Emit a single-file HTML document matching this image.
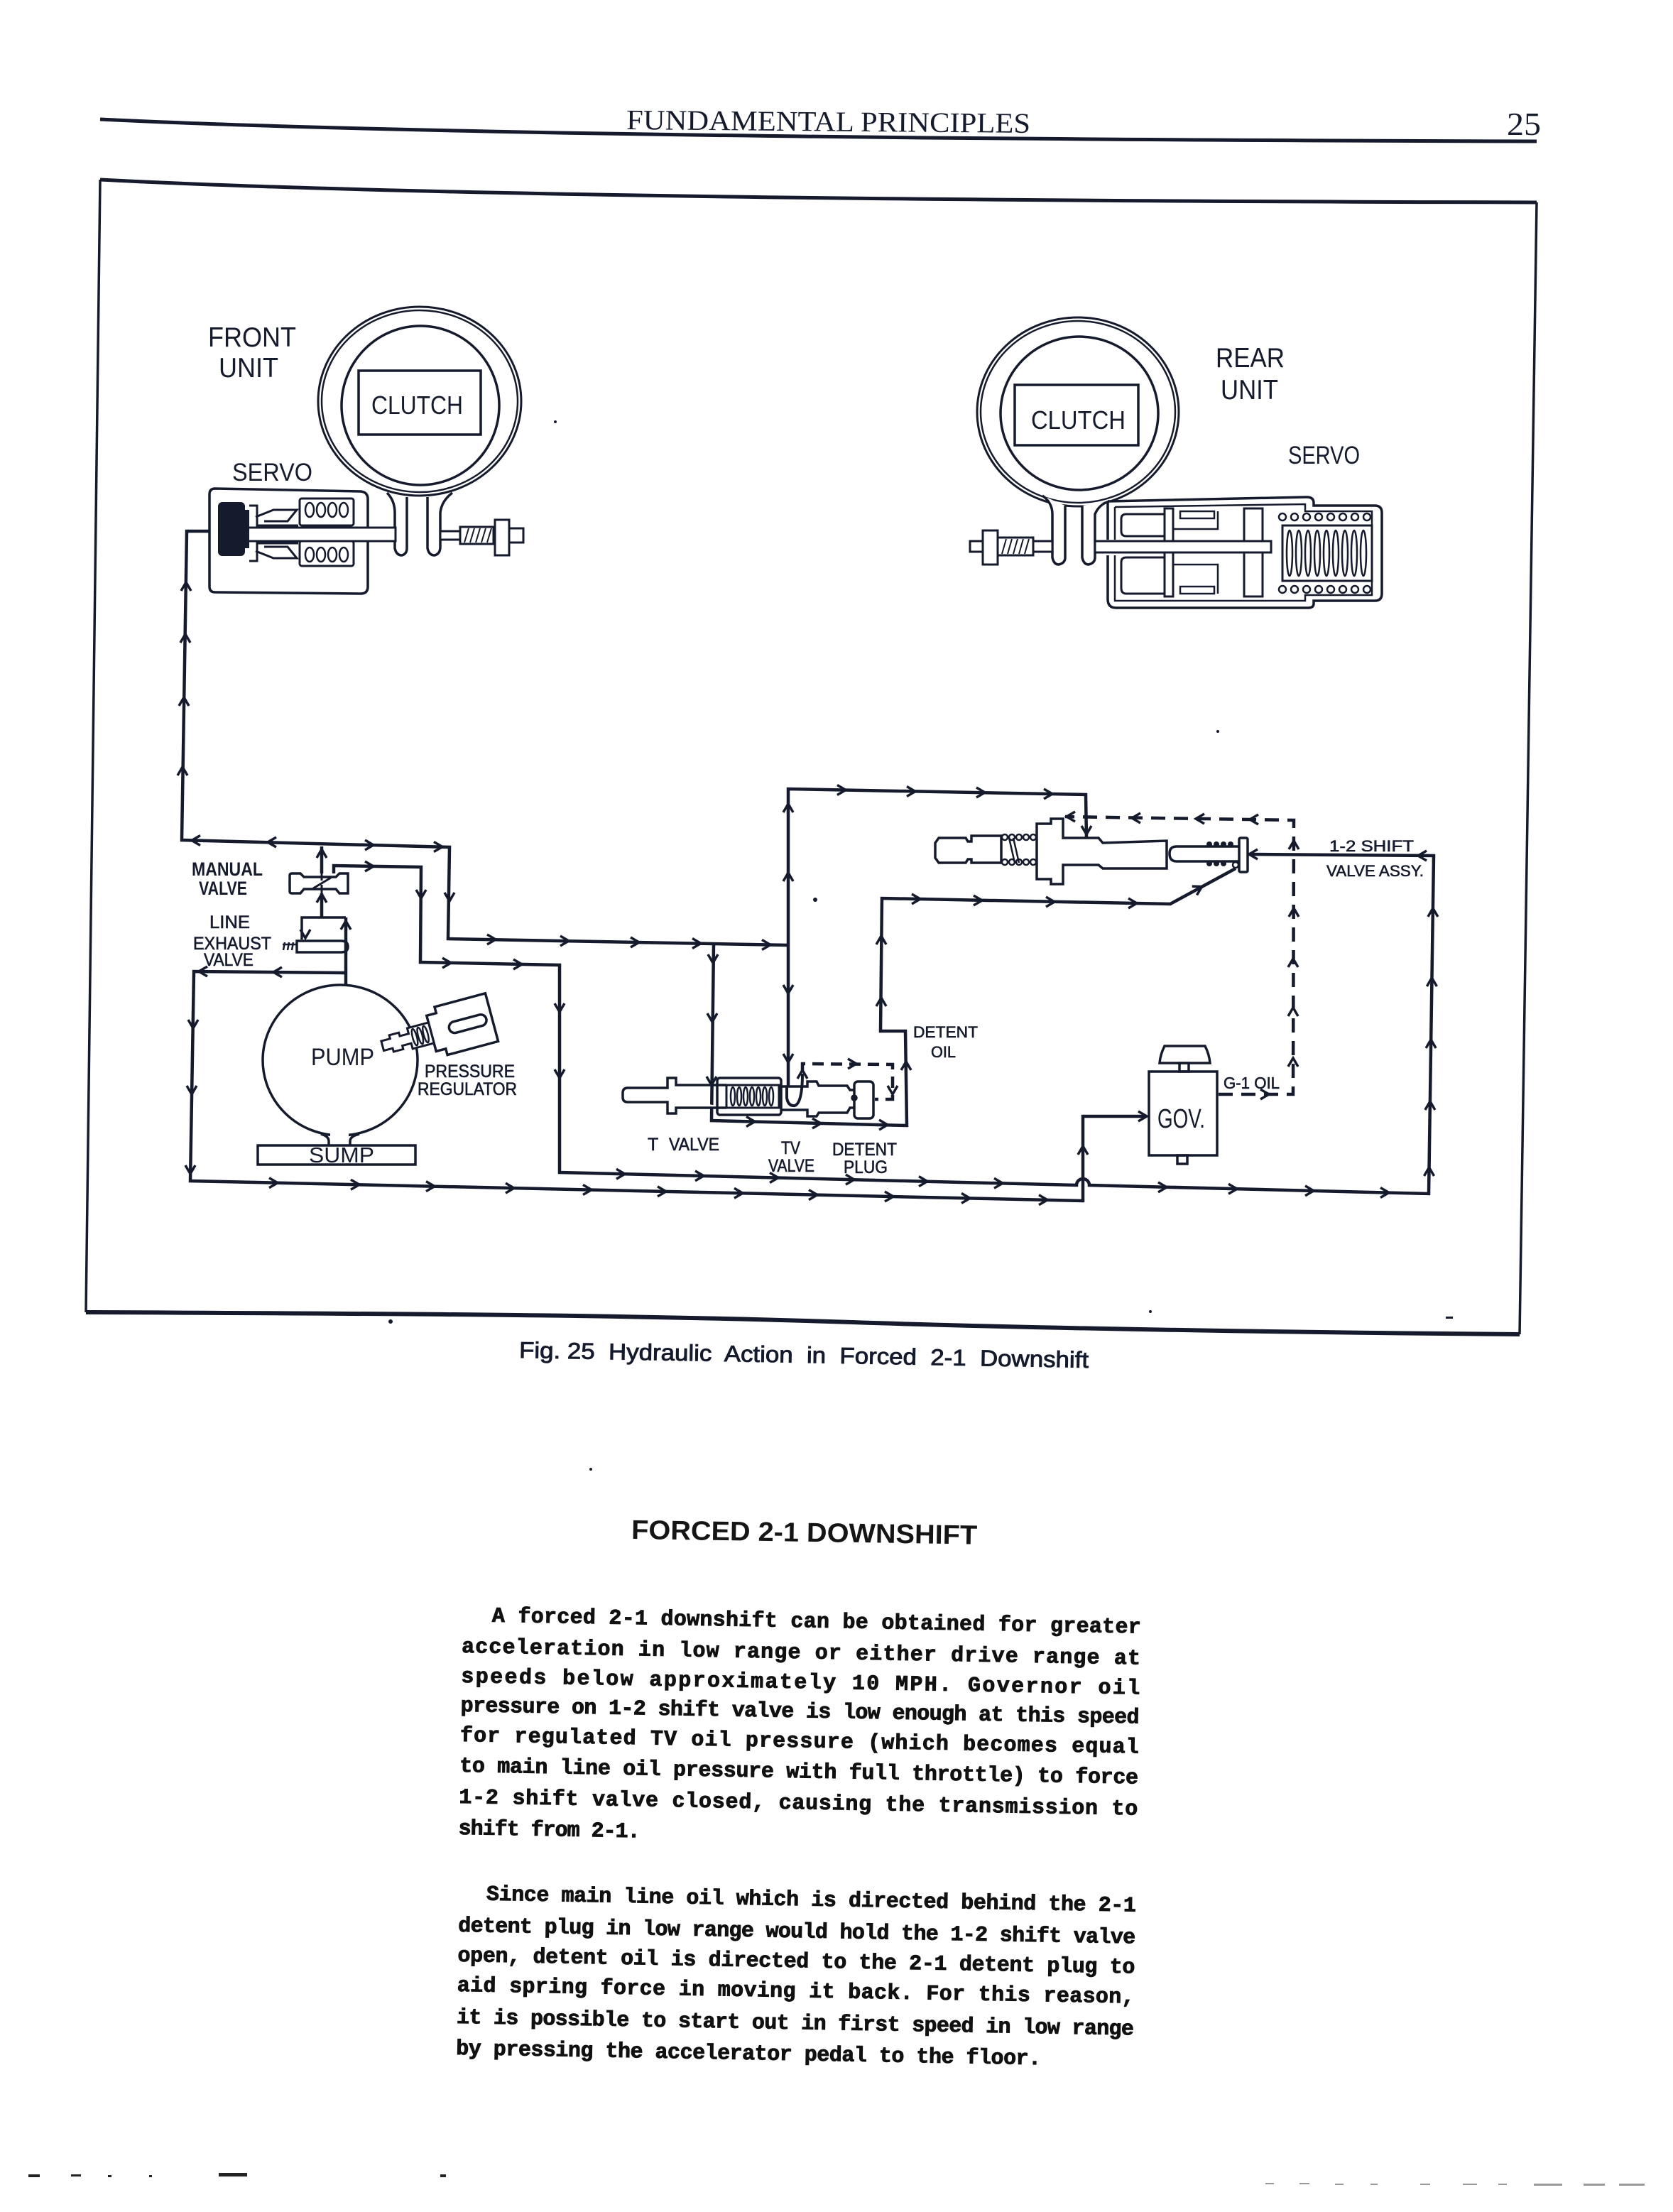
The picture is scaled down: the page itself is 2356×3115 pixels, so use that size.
<!DOCTYPE html>
<html><head><meta charset="utf-8">
<style>
html,body{margin:0;padding:0;background:#fff}
svg{display:block}
</style></head><body>
<svg xmlns="http://www.w3.org/2000/svg" width="2356" height="3115" viewBox="0 0 2356 3115">
<defs>
<path id="a" d="M-9,-7 L3,0 L-9,7" fill="none" stroke="#151b2d" stroke-width="3.5"/>
</defs>
<rect width="2356" height="3115" fill="#fff"/>

<!-- HEADER -->
<g fill="none" stroke="#151b2d">
<path d="M141,168 Q700,195 2164,199" stroke-width="5"/>
<!-- frame -->
<path d="M141,253 Q700,282 2164,285" stroke-width="5"/>
<path d="M141,253 L121,1848" stroke-width="3.5"/>
<path d="M2164,285 L2140,1879" stroke-width="3.5"/>
<path d="M121,1848 C600,1850 900,1852 1200,1862 S1900,1877 2140,1879" stroke-width="6"/>
</g>
<text x="882" y="182" font-family="Liberation Serif, serif" font-size="40" fill="#151b2d" textLength="569" lengthAdjust="spacingAndGlyphs" transform="rotate(0.5 882 182)">FUNDAMENTAL PRINCIPLES</text>
<text x="2122" y="190" font-family="Liberation Serif, serif" font-size="46" fill="#151b2d" textLength="48" lengthAdjust="spacingAndGlyphs">25</text>

<!-- ============ FRONT UNIT ============ -->
<g fill="none" stroke="#151b2d">
<ellipse cx="591" cy="565" rx="143" ry="133" stroke-width="3"/>
<ellipse cx="591" cy="565" rx="138" ry="128" stroke-width="2.5"/>
<ellipse cx="592" cy="571" rx="111" ry="112" stroke-width="3.5"/>
<rect x="505" y="522" width="172" height="90" stroke-width="3.5"/>
<!-- fork -->
<path d="M545,694 Q556,705 556,722 L556,772 Q558,782 566,782 Q573,780 573,772 L573,700 M602,700 L602,772 Q604,782 612,782 Q620,780 620,770 L620,722 Q622,705 637,694" stroke-width="3.5" fill="#fff"/>
<!-- servo box -->
<path d="M303,688 L508,692 Q518,693 518,703 L518,826 Q518,836 508,836 L303,834 Q295,834 295,826 L295,696 Q295,688 303,688 Z" stroke-width="3.5"/>
<rect x="422" y="702" width="76" height="38" rx="3" stroke-width="3"/>
<rect x="422" y="762" width="76" height="35" rx="3" stroke-width="3"/>
<g stroke-width="2.5">
<ellipse cx="436" cy="718" rx="6" ry="10"/><ellipse cx="452" cy="718" rx="6" ry="10"/><ellipse cx="468" cy="718" rx="6" ry="10"/><ellipse cx="484" cy="718" rx="6" ry="10"/>
<ellipse cx="436" cy="781" rx="6" ry="10"/><ellipse cx="452" cy="781" rx="6" ry="10"/><ellipse cx="468" cy="781" rx="6" ry="10"/><ellipse cx="484" cy="781" rx="6" ry="10"/>
</g>
<polyline points="360,728 385,718 418,718 405,734 372,734" stroke-width="3"/>
<polyline points="372,770 405,770 418,786 385,786 360,776" stroke-width="3"/>
<path d="M351,712 L362,712 L362,740 L420,740 M351,790 L362,790 L362,765 L420,765" stroke-width="3"/>
<rect x="347" y="743" width="210" height="19" fill="#fff" stroke-width="3"/>
<!-- screw -->
<rect x="620" y="748" width="117" height="12" fill="#fff" stroke-width="3"/>
<rect x="648" y="742" width="47" height="24" fill="#fff" stroke-width="3"/>
<path d="M654,764 L660,744 M662,764 L668,744 M670,764 L676,744 M678,764 L684,744 M686,764 L692,744" stroke-width="2"/>
<rect x="697" y="732" width="20" height="50" fill="#fff" stroke-width="3"/>
<rect x="717" y="744" width="20" height="20" fill="#fff" stroke-width="3"/>
</g>
<rect x="307" y="707" width="38" height="76" rx="6" fill="#151b2d"/>
<rect x="343" y="718" width="8" height="54" fill="#151b2d"/>

<g font-family="Liberation Sans, sans-serif" fill="#151b2d">
<text x="293" y="488" font-size="39" textLength="124" lengthAdjust="spacingAndGlyphs">FRONT</text>
<text x="308" y="531" font-size="39" textLength="84" lengthAdjust="spacingAndGlyphs">UNIT</text>
<text x="523" y="583" font-size="36" textLength="129" lengthAdjust="spacingAndGlyphs">CLUTCH</text>
<text x="327" y="677" font-size="35" textLength="113" lengthAdjust="spacingAndGlyphs">SERVO</text>
<text x="1712" y="517" font-size="39" textLength="97" lengthAdjust="spacingAndGlyphs">REAR</text>
<text x="1719" y="562" font-size="39" textLength="81" lengthAdjust="spacingAndGlyphs">UNIT</text>
<text x="1452" y="604" font-size="36" textLength="133" lengthAdjust="spacingAndGlyphs">CLUTCH</text>
<text x="1814" y="653" font-size="35" textLength="101" lengthAdjust="spacingAndGlyphs">SERVO</text>
</g>

<!-- ============ REAR UNIT ============ -->
<g fill="none" stroke="#151b2d">
<ellipse cx="1518" cy="580" rx="142" ry="133" stroke-width="3"/>
<ellipse cx="1518" cy="580" rx="137" ry="128" stroke-width="2.5"/>
<ellipse cx="1520" cy="582" rx="111" ry="108" stroke-width="3.5"/>
<rect x="1429" y="542" width="174" height="85" stroke-width="3.5"/>
<!-- body -->
<path d="M1560,706 L1840,700 Q1850,700 1850,708 L1850,712 L1936,712 Q1946,712 1946,722 L1946,836 Q1946,846 1936,846 L1850,846 L1850,850 Q1850,856 1842,856 L1572,856 Q1560,856 1560,844 L1560,782 M1560,760 L1560,706" stroke-width="3.5" fill="#fff"/>
<path d="M1570,714 L1838,710 L1838,720 L1932,720 L1932,838 L1838,838 L1838,846 L1570,846 L1570,782 M1570,760 L1570,714" stroke-width="2.5"/>
<!-- fork -->
<path d="M1468,698 Q1482,708 1482,724 L1482,785 Q1484,795 1491,795 Q1500,793 1500,785 L1500,712 M1524,712 L1524,785 Q1526,795 1533,795 Q1542,793 1542,785 L1542,724 Q1548,710 1562,706" stroke-width="3.5" fill="#fff"/>
<!-- pistons -->
<path d="M1640,724 L1586,724 Q1579,724 1579,731 L1579,748 Q1579,755 1586,755 L1640,755" stroke-width="3"/>
<path d="M1640,785 L1586,785 Q1579,785 1579,792 L1579,828 Q1579,836 1586,836 L1640,836" stroke-width="3"/>
<rect x="1640" y="716" width="12" height="124" stroke-width="3" fill="#fff"/>
<rect x="1662" y="720" width="48" height="10" stroke-width="2.5"/>
<rect x="1662" y="826" width="48" height="10" stroke-width="2.5"/>
<path d="M1652,745 L1715,745 L1715,720 M1652,795 L1715,795 L1715,836" stroke-width="2.5"/>
<rect x="1752" y="716" width="26" height="124" stroke-width="3" fill="#fff"/>
<rect x="1542" y="762" width="248" height="16" fill="#fff" stroke-width="3"/>
<!-- spring -->
<g stroke-width="2.5">
<circle cx="1806" cy="728" r="5"/><circle cx="1823" cy="728" r="5"/><circle cx="1840" cy="728" r="5"/><circle cx="1857" cy="728" r="5"/><circle cx="1874" cy="728" r="5"/><circle cx="1891" cy="728" r="5"/><circle cx="1908" cy="728" r="5"/><circle cx="1925" cy="728" r="5"/>
<circle cx="1806" cy="830" r="5"/><circle cx="1823" cy="830" r="5"/><circle cx="1840" cy="830" r="5"/><circle cx="1857" cy="830" r="5"/><circle cx="1874" cy="830" r="5"/><circle cx="1891" cy="830" r="5"/><circle cx="1908" cy="830" r="5"/><circle cx="1925" cy="830" r="5"/>
<rect x="1806" y="740" width="126" height="78" stroke-width="3"/>
<ellipse cx="1816" cy="779" rx="4" ry="32"/><ellipse cx="1829" cy="779" rx="4" ry="32"/><ellipse cx="1842" cy="779" rx="4" ry="32"/><ellipse cx="1855" cy="779" rx="4" ry="32"/><ellipse cx="1868" cy="779" rx="4" ry="32"/><ellipse cx="1881" cy="779" rx="4" ry="32"/><ellipse cx="1894" cy="779" rx="4" ry="32"/><ellipse cx="1907" cy="779" rx="4" ry="32"/><ellipse cx="1920" cy="779" rx="4" ry="32"/>
</g>
<!-- screw -->
<rect x="1366" y="762" width="116" height="15" fill="#fff" stroke-width="3"/>
<rect x="1405" y="757" width="50" height="25" fill="#fff" stroke-width="3"/>
<path d="M1411,780 L1417,759 M1419,780 L1425,759 M1427,780 L1433,759 M1435,780 L1441,759 M1443,780 L1449,759" stroke-width="2"/>
<rect x="1384" y="747" width="21" height="48" fill="#fff" stroke-width="3"/>
</g>

<!-- ============ HYDRAULIC LINES ============ -->
<g fill="none" stroke="#151b2d" stroke-width="4.5" stroke-linejoin="miter">
<polyline points="295,748 263,748 256,1183 633,1193 631,1322 1110,1331"/>
<path d="M453,1192 L453,1230 M453,1258 L453,1292"/>
<path d="M470,1230 L470,1219 L593,1221 L592,1355 L788,1359 L788,1651 L1516,1669 A9,9 0 0 1 1534,1669 L2012,1681 L2019,1205 L1757,1203"/>
<path d="M487,1292 L487,1388"/>
<polyline points="487,1370 273,1368 268,1663 1525,1691 1525,1572 1614,1572"/>
<polyline points="1005,1329 1002,1578 1277,1585 1275,1452 1240,1452 1242,1265 1648,1273 1740,1223"/>
<polyline points="1110,1530 1110,1111 1529,1119 1530,1180"/>
<path d="M1108,1531 L1108,1546 Q1110,1558 1119,1557 Q1130,1554 1130,1512" stroke-width="4"/>
</g>
<g fill="none" stroke="#151b2d" stroke-width="4.5" stroke-dasharray="20 12">
<polyline points="1716,1541 1821,1541 1822,1155 1500,1150"/>
<polyline points="1130,1510 1130,1498 1257,1499 1257,1548 1232,1548" stroke-dasharray="16 10"/>
</g>

<!-- ARROWS -->
<g>
<use href="#a" transform="translate(262,823) rotate(-90)"/>
<use href="#a" transform="translate(261,896) rotate(-90)"/>
<use href="#a" transform="translate(259,985) rotate(-90)"/>
<use href="#a" transform="translate(257,1083) rotate(-90)"/>
<use href="#a" transform="translate(273,1183.5) rotate(180)"/>
<use href="#a" transform="translate(380,1186) rotate(180)"/>
<use href="#a" transform="translate(523,1190)"/>
<use href="#a" transform="translate(620,1192.5)"/>
<use href="#a" transform="translate(453,1199) rotate(-90)"/>
<use href="#a" transform="translate(453,1262) rotate(-90)"/>
<use href="#a" transform="translate(523,1220)"/>
<use href="#a" transform="translate(593,1262) rotate(90)"/>
<use href="#a" transform="translate(633,1266) rotate(90)"/>
<use href="#a" transform="translate(695,1323)"/>
<use href="#a" transform="translate(798,1325)"/>
<use href="#a" transform="translate(897,1327)"/>
<use href="#a" transform="translate(984,1328.5)"/>
<use href="#a" transform="translate(1082,1330.5)"/>
<use href="#a" transform="translate(632,1356)"/>
<use href="#a" transform="translate(732,1358)"/>
<use href="#a" transform="translate(788,1422) rotate(90)"/>
<use href="#a" transform="translate(788,1515) rotate(90)"/>
<use href="#a" transform="translate(487,1300) rotate(-90)"/>
<use href="#a" transform="translate(430,1318) rotate(90)"/>
<use href="#a" transform="translate(283,1368) rotate(180)"/>
<use href="#a" transform="translate(388,1369) rotate(180)"/>
<use href="#a" transform="translate(272,1445) rotate(90)"/>
<use href="#a" transform="translate(270,1538) rotate(90)"/>
<use href="#a" transform="translate(268,1650) rotate(90)"/>
<use href="#a" transform="translate(388,1665.7)"/>
<use href="#a" transform="translate(503,1668.2)"/>
<use href="#a" transform="translate(609,1670.6)"/>
<use href="#a" transform="translate(721,1673.1)"/>
<use href="#a" transform="translate(830,1675.5)"/>
<use href="#a" transform="translate(935,1677.9)"/>
<use href="#a" transform="translate(1043,1680.3)"/>
<use href="#a" transform="translate(1148,1682.6)"/>
<use href="#a" transform="translate(1255,1685)"/>
<use href="#a" transform="translate(1363,1687.4)"/>
<use href="#a" transform="translate(1472,1689.8)"/>
<use href="#a" transform="translate(1525,1617) rotate(-90)"/>
<use href="#a" transform="translate(1612,1572)"/>
<use href="#a" transform="translate(877,1653.2)"/>
<use href="#a" transform="translate(988,1655.9)"/>
<use href="#a" transform="translate(1093,1658.5)"/>
<use href="#a" transform="translate(1200,1661.1)"/>
<use href="#a" transform="translate(1303,1663.6)"/>
<use href="#a" transform="translate(1409,1666.2)"/>
<use href="#a" transform="translate(1640,1671.9)"/>
<use href="#a" transform="translate(1739,1674.3)"/>
<use href="#a" transform="translate(1847,1676.9)"/>
<use href="#a" transform="translate(1953,1679.5)"/>
<use href="#a" transform="translate(2012.5,1647) rotate(-90)"/>
<use href="#a" transform="translate(2013.9,1554) rotate(-90)"/>
<use href="#a" transform="translate(2015.1,1467) rotate(-90)"/>
<use href="#a" transform="translate(2016.4,1380) rotate(-90)"/>
<use href="#a" transform="translate(2017.9,1282) rotate(-90)"/>
<use href="#a" transform="translate(2000,1205) rotate(180)"/>
<use href="#a" transform="translate(1762,1203) rotate(180)"/>
<use href="#a" transform="translate(1004,1353) rotate(90)"/>
<use href="#a" transform="translate(1003,1436) rotate(90)"/>
<use href="#a" transform="translate(1002,1525) rotate(90)"/>
<use href="#a" transform="translate(1060,1579.5)"/>
<use href="#a" transform="translate(1153,1582)"/>
<use href="#a" transform="translate(1247,1584)"/>
<use href="#a" transform="translate(1276,1498) rotate(-90)"/>
<use href="#a" transform="translate(1241,1408) rotate(-90)"/>
<use href="#a" transform="translate(1241,1321) rotate(-90)"/>
<use href="#a" transform="translate(1293,1266)"/>
<use href="#a" transform="translate(1380,1268)"/>
<use href="#a" transform="translate(1482,1270)"/>
<use href="#a" transform="translate(1598,1272)"/>
<use href="#a" transform="translate(1690,1250) rotate(-28.5)"/>
<use href="#a" transform="translate(1110,1135) rotate(-90)"/>
<use href="#a" transform="translate(1110,1232) rotate(-90)"/>
<use href="#a" transform="translate(1110,1396) rotate(90)"/>
<use href="#a" transform="translate(1110,1493) rotate(90)"/>
<use href="#a" transform="translate(1188,1112.5)"/>
<use href="#a" transform="translate(1286,1114.5)"/>
<use href="#a" transform="translate(1384,1116)"/>
<use href="#a" transform="translate(1479,1118)"/>
<use href="#a" transform="translate(1530,1172) rotate(90)"/>
<use href="#a" transform="translate(1821,1493) rotate(-90)"/>
<use href="#a" transform="translate(1821,1422) rotate(-90)"/>
<use href="#a" transform="translate(1821,1353) rotate(-90)"/>
<use href="#a" transform="translate(1822,1282) rotate(-90)"/>
<use href="#a" transform="translate(1822,1187) rotate(-90)"/>
<use href="#a" transform="translate(1763,1154) rotate(180)"/>
<use href="#a" transform="translate(1687,1153) rotate(180)"/>
<use href="#a" transform="translate(1597,1152) rotate(180)"/>
<use href="#a" transform="translate(1505,1150) rotate(180)"/>
<use href="#a" transform="translate(1784,1541)"/>
<use href="#a" transform="translate(1130,1510) rotate(-90)"/>
<use href="#a" transform="translate(1203,1498)"/>
<use href="#a" transform="translate(1257,1538) rotate(90)"/>
</g>

<!-- ============ COMPONENTS ============ -->
<g fill="none" stroke="#151b2d" stroke-width="3.5">
<!-- manual valve -->
<path d="M408,1233 Q408,1230 411,1230 L423,1230 L428,1235 L473,1235 L478,1230 L490,1230 L490,1258 L478,1258 L473,1252 L428,1252 L423,1258 L411,1258 Q408,1258 408,1255 Z" fill="#fff"/>
<path d="M453,1230 L453,1240 M441,1251 L466,1236 M453,1246 L453,1258" stroke-width="3"/>
<!-- line exhaust -->
<path d="M425,1323 L425,1292 L487,1292"/>
<path d="M418,1325 L480,1325 Q490,1325 490,1333 Q490,1341 480,1341 L418,1341 Z"/>
<path d="M399,1338 L401,1327 M405,1338 L407,1327 M411,1338 L413,1327 M398,1330 L417,1330" stroke-width="2.5"/>
<!-- pump -->
<ellipse cx="479" cy="1493" rx="109" ry="106" fill="#fff"/>
<rect x="465" y="1590" width="26" height="14" fill="#fff" stroke="none"/>
<path d="M452,1597 Q463,1600 463,1607 L463,1614 M506,1597 Q493,1600 493,1607 L493,1614"/>
<rect x="363" y="1613" width="222" height="27"/>
<!-- pressure regulator -->
<g transform="rotate(-15 650 1444)">
<path d="M606,1418 L620,1418 L620,1409 L694,1409 L694,1479 L620,1479 L620,1470 L606,1470 Z" fill="#fff"/>
<rect x="632" y="1436" width="54" height="16" rx="8"/>
<path d="M535,1436 L548,1436 L548,1431 L562,1431 L562,1436 L575,1436 L575,1428 L606,1428 L606,1458 L575,1458 L575,1450 L562,1450 L562,1455 L548,1455 L548,1450 L535,1450 Z" fill="#fff" stroke-width="3"/>
<g stroke-width="2.5"><ellipse cx="582" cy="1443" rx="3" ry="12"/><ellipse cx="590" cy="1443" rx="3" ry="12"/><ellipse cx="598" cy="1443" rx="3" ry="12"/></g>
</g>
<!-- T valve / TV valve / detent plug -->
<path d="M884,1532 L940,1532 L940,1518 L952,1518 L952,1528 L1023,1528 M1023,1560 L952,1560 L952,1568 L940,1568 L940,1552 L884,1552 Q877,1552 877,1545 L877,1539 Q877,1532 884,1532" fill="#fff"/>
<rect x="1010" y="1518" width="90" height="52" rx="4"/>
<rect x="1023" y="1528" width="74" height="32" stroke-width="3"/>
<g stroke-width="2.5"><ellipse cx="1032" cy="1544" rx="3" ry="13"/><ellipse cx="1041" cy="1544" rx="3" ry="13"/><ellipse cx="1050" cy="1544" rx="3" ry="13"/><ellipse cx="1059" cy="1544" rx="3" ry="13"/><ellipse cx="1068" cy="1544" rx="3" ry="13"/><ellipse cx="1077" cy="1544" rx="3" ry="13"/><ellipse cx="1086" cy="1544" rx="3" ry="13"/></g>
<path d="M1100,1530 L1137,1530 L1137,1523 L1150,1523 L1153,1529 L1193,1529 L1197,1535 L1203,1535 M1203,1560 L1197,1560 L1193,1567 L1153,1567 L1150,1572 L1137,1572 L1137,1563 L1100,1563"/>
<rect x="1203" y="1523" width="27" height="52" rx="5"/>
<circle cx="1203" cy="1546" r="3"/>
<!-- shift valve -->
<polygon points="1322,1180 1360,1180 1363,1185 1368,1185 1368,1177 1410,1177 1410,1215 1368,1215 1368,1210 1363,1210 1360,1215 1322,1215 1317,1208 1317,1187" fill="#fff"/>
<g stroke-width="2.5"><circle cx="1415" cy="1179" r="4"/><circle cx="1425" cy="1179" r="4"/><circle cx="1435" cy="1179" r="4"/><circle cx="1445" cy="1179" r="4"/><circle cx="1455" cy="1179" r="4"/>
<circle cx="1415" cy="1214" r="4"/><circle cx="1425" cy="1214" r="4"/><circle cx="1435" cy="1214" r="4"/><circle cx="1445" cy="1214" r="4"/><circle cx="1455" cy="1214" r="4"/>
<path d="M1421,1180 L1429,1215 M1427,1180 L1435,1215"/></g>
<path d="M1460,1180 L1460,1160 L1480,1160 L1480,1153 L1497,1153 L1497,1180 L1547,1180 L1553,1187 L1643,1184 L1643,1223 L1553,1223 L1547,1218 L1497,1218 L1497,1245 L1480,1245 L1480,1238 L1460,1238 L1460,1215 Z" fill="#fff"/>
<path d="M1747,1192 L1657,1192 Q1647,1192 1647,1202 Q1647,1213 1657,1213 L1747,1213" fill="#fff"/>
<rect x="1745" y="1180" width="12" height="48" rx="2" fill="#fff"/>
<circle cx="1740" cy="1218" r="4" stroke-width="2.5"/>
<!-- GOV -->
<rect x="1618" y="1509" width="96" height="118" fill="#fff"/>
<rect x="1661" y="1497" width="13" height="12"/>
<path d="M1640,1473 L1697,1473 Q1703,1485 1704,1497 L1633,1497 Q1634,1485 1640,1473 Z"/>
<rect x="1658" y="1627" width="14" height="12"/>
</g>
<g fill="#151b2d">
<circle cx="1703" cy="1189" r="4"/><circle cx="1713" cy="1189" r="4"/><circle cx="1723" cy="1189" r="4"/><circle cx="1733" cy="1189" r="4"/>
<circle cx="1703" cy="1216" r="4"/><circle cx="1713" cy="1216" r="4"/><circle cx="1723" cy="1216" r="4"/>
</g>

<!-- HYDRAULIC LABELS -->
<g font-family="Liberation Sans, sans-serif" fill="#151b2d" stroke="#151b2d" stroke-width="0.6">
<text x="270" y="1233" font-size="27" font-weight="bold" stroke-width="0" textLength="100" lengthAdjust="spacingAndGlyphs">MANUAL</text>
<text x="280" y="1260" font-size="27" font-weight="bold" stroke-width="0" textLength="68" lengthAdjust="spacingAndGlyphs">VALVE</text>
<text x="295" y="1307" font-size="25" textLength="57" lengthAdjust="spacingAndGlyphs">LINE</text>
<text x="272" y="1337" font-size="25" textLength="110" lengthAdjust="spacingAndGlyphs">EXHAUST</text>
<text x="287" y="1360" font-size="25" textLength="70" lengthAdjust="spacingAndGlyphs">VALVE</text>
<text x="438" y="1500" font-size="34" stroke-width="0" textLength="89" lengthAdjust="spacingAndGlyphs">PUMP</text>
<text x="435" y="1637" font-size="31" stroke-width="0" textLength="92" lengthAdjust="spacingAndGlyphs">SUMP</text>
<text x="598" y="1517" font-size="25" textLength="127" lengthAdjust="spacingAndGlyphs">PRESSURE</text>
<text x="588" y="1542" font-size="25" textLength="140" lengthAdjust="spacingAndGlyphs">REGULATOR</text>
<text x="912" y="1620" font-size="25">T</text>
<text x="942" y="1620" font-size="25" textLength="71" lengthAdjust="spacingAndGlyphs">VALVE</text>
<text x="1100" y="1625" font-size="25" textLength="27" lengthAdjust="spacingAndGlyphs">TV</text>
<text x="1082" y="1650" font-size="25" textLength="65" lengthAdjust="spacingAndGlyphs">VALVE</text>
<text x="1172" y="1627" font-size="25" textLength="91" lengthAdjust="spacingAndGlyphs">DETENT</text>
<text x="1188" y="1652" font-size="25" textLength="62" lengthAdjust="spacingAndGlyphs">PLUG</text>
<text x="1286" y="1461" font-size="22" textLength="91" lengthAdjust="spacingAndGlyphs">DETENT</text>
<text x="1311" y="1489" font-size="22" textLength="35" lengthAdjust="spacingAndGlyphs">OIL</text>
<text x="1630" y="1588" font-size="38" stroke-width="0" textLength="67" lengthAdjust="spacingAndGlyphs">GOV.</text>
<text x="1723" y="1533" font-size="23" textLength="79" lengthAdjust="spacingAndGlyphs">G-1 OIL</text>
<text x="1872" y="1199" font-size="22" textLength="119" lengthAdjust="spacingAndGlyphs">1-2 SHIFT</text>
<text x="1868" y="1234" font-size="22" textLength="137" lengthAdjust="spacingAndGlyphs">VALVE ASSY.</text>
</g>

<!-- specks -->
<g fill="#151b2d">
<circle cx="782" cy="594" r="2"/><circle cx="1715" cy="1030" r="2"/><circle cx="1148" cy="1267" r="3"/>
<circle cx="550" cy="1861" r="3"/><circle cx="1620" cy="1847" r="2"/><circle cx="832" cy="2069" r="2"/>
<rect x="2036" y="1854" width="10" height="3"/>
</g>

<!-- CAPTION + HEADING -->
<text x="731" y="1912" font-family="Liberation Sans, sans-serif" font-size="32" fill="#151b2d" stroke="#151b2d" stroke-width="0.9" style="white-space:pre" textLength="802" lengthAdjust="spacingAndGlyphs" transform="rotate(1 731 1912)">Fig. 25  Hydraulic  Action  in  Forced  2-1  Downshift</text>
<text x="889" y="2167" font-family="Liberation Sans, sans-serif" font-weight="bold" font-size="38" fill="#151515" textLength="487" lengthAdjust="spacingAndGlyphs" transform="rotate(0.9 889 2167)">FORCED 2-1 DOWNSHIFT</text>

<!-- BODY TEXT -->
<g transform="rotate(1 650 2327)" font-family="Liberation Mono, monospace" font-weight="bold" font-size="30" fill="#111" stroke="#111" stroke-width="0.9" style="white-space:pre">
<text x="692" y="2283" textLength="914" lengthAdjust="spacing">A forced 2-1 downshift can be obtained for greater</text>
<text x="650" y="2327" textLength="956" lengthAdjust="spacing">acceleration in low range or either drive range at</text>
<text x="650" y="2369" textLength="956" lengthAdjust="spacing">speeds below approximately 10 MPH.  Governor oil</text>
<text x="650" y="2410" textLength="956" lengthAdjust="spacing">pressure on 1-2 shift valve is low enough at this speed</text>
<text x="650" y="2452" textLength="956" lengthAdjust="spacing">for regulated TV oil pressure (which becomes equal</text>
<text x="650" y="2495" textLength="956" lengthAdjust="spacing">to main line oil pressure with full throttle) to force</text>
<text x="650" y="2539" textLength="956" lengthAdjust="spacing">1-2 shift valve closed, causing the transmission to</text>
<text x="650" y="2583" textLength="256" lengthAdjust="spacing">shift from 2-1.</text>
<text x="691" y="2675" textLength="915" lengthAdjust="spacing">Since main line oil which is directed behind the 2-1</text>
<text x="652" y="2720" textLength="954" lengthAdjust="spacing">detent plug in low range would hold the 1-2 shift valve</text>
<text x="652" y="2762" textLength="954" lengthAdjust="spacing">open, detent oil is directed to the 2-1 detent plug to</text>
<text x="652" y="2804" textLength="954" lengthAdjust="spacing">aid spring force in moving it back.  For this reason,</text>
<text x="652" y="2849" textLength="954" lengthAdjust="spacing">it is possible to start out in first speed in low range</text>
<text x="652" y="2893" textLength="824" lengthAdjust="spacing">by pressing the accelerator pedal to the floor.</text>
</g>

<!-- footer marks -->
<g fill="#222">
<rect x="40" y="3062" width="16" height="4"/><rect x="100" y="3062" width="14" height="3"/>
<rect x="152" y="3063" width="5" height="3"/><rect x="210" y="3063" width="4" height="3"/>
<rect x="308" y="3060" width="40" height="5"/><rect x="620" y="3062" width="8" height="4"/>
</g>
<g fill="#999">
<rect x="1782" y="3074" width="12" height="2"/><rect x="1830" y="3074" width="14" height="2"/>
<rect x="1880" y="3075" width="12" height="2"/><rect x="1930" y="3075" width="10" height="2"/>
<rect x="2000" y="3075" width="14" height="2"/><rect x="2060" y="3075" width="20" height="2"/>
<rect x="2110" y="3075" width="12" height="2"/><rect x="2160" y="3075" width="40" height="3"/>
<rect x="2230" y="3075" width="30" height="3"/><rect x="2280" y="3075" width="36" height="3"/>
</g>
</svg>
</body></html>
